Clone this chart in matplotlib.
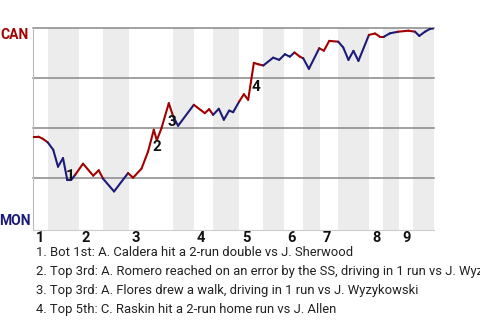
import matplotlib.pyplot as plt

# win probability for CAN (%), sampled along the game
x = [0, 5.2, 9.7, 14.7, 20.2, 25, 30, 34.2, 38.4, 42.2, 50, 60.2, 65.7, 70, 81, 95,
     100, 108.4, 115, 120.7, 123.7, 128.4, 135.7, 140.2, 145, 160.7, 171.7, 176, 180,
     185.7, 190.7, 196, 200, 206, 210.7, 215, 220.7, 225, 230.2, 240, 246, 251.7,
     256.7, 261.2, 266.7, 270, 275.7, 286, 290.7, 296, 305, 310, 315.2, 320.2, 325.2,
     335.7, 341.7, 346.7, 350.7, 356.7, 365, 375, 381.7, 386, 391.7, 396.7, 400.7]
wp = [45.8, 45.8, 44.7, 42.9, 39.2, 30.7, 35, 24.2, 24.2, 26.7, 32.2, 26.2, 28.9, 24.7,
      18.3, 27.5, 25.2, 29.7, 38.3, 49.2, 43.9, 50, 62.5, 55.7, 51.2, 61.7, 57.5, 59.5,
      56.7, 59.7, 54.2, 58.8, 58, 63.3, 67, 64.2, 82.7, 82, 81.4, 85.3, 84.2, 87, 85.8,
      87.9, 85.8, 85, 79.7, 90, 88.8, 93.7, 93.3, 90.4, 84.2, 88.7, 83.7, 96.7, 97.4,
      95.8, 95.8, 97.5, 98.3, 98.8, 98.3, 96.2, 98.3, 99.7, 100]
# which team each segment belongs to (R = CAN, B = MON)
seg_team = "RRRBBBBBBRRRRBBRRRRRRRRBBRRRBBBBBRRRRRBBBBBRRBBRRRBBBBBRRRBBRRBBBB"

half_innings = [0, 14.7, 45.7, 69.7, 95.7, 139.7, 160.7, 179.7, 205.7, 229.7, 250.7,
                269.7, 286.7, 304.7, 335.7, 349.7, 365.7, 379.7, 400.7]
innings = ["1", "2", "3", "4", "5", "6", "7", "8", "9"]

event_ids = ["1", "2", "3", "4"]
event_x = [37.2, 123.7, 138.7, 223.2]
event_wp = [26.2, 40.4, 53.2, 70.4]
event_text = [
    "1. Bot 1st: A. Caldera hit a 2-run double vs J. Sherwood",
    "2. Top 3rd: A. Romero reached on an error by the SS, driving in 1 run vs J. Wyzykowski",
    "3. Top 3rd: A. Flores drew a walk, driving in 1 run vs J. Wyzykowski",
    "4. Top 5th: C. Raskin hit a 2-run home run vs J. Allen",
]

RED = "#a30000"
BLUE = "#1c1c78"
plt.rcParams['font.family'] = ['Roboto', 'DejaVu Sans']

fig = plt.figure(figsize=(4.8, 3.2), dpi=100)
ax = fig.add_axes([33 / 480, 0.28125, 401 / 480, 0.6303])
ax.set_xlim(0, half_innings[-1])
ax.set_ylim(-1, 100)

# shade bottom halves
for i in range(1, len(half_innings) - 1, 2):
    ax.axvspan(half_innings[i], half_innings[i + 1], color="#ececec", lw=0, zorder=0)

for y in [25, 50, 75, 100]:
    ax.axhline(y, color="#888888", lw=1.1, zorder=1, clip_on=False)

for i, t in enumerate(seg_team):
    ax.plot(x[i:i + 2], wp[i:i + 2], color=RED if t == "R" else BLUE, lw=1.5,
            solid_capstyle="round", zorder=3)

for eid, ex, ey in zip(event_ids, event_x, event_wp):
    ax.text(ex, ey, eid, fontsize=11, fontweight="bold", ha="center", va="center",
            color="#111111", zorder=4)

for spine in ["top", "right"]:
    ax.spines[spine].set_visible(False)
ax.spines["left"].set_color("#bbbbbb")
ax.spines["bottom"].set_color("#cccccc")
ax.set_xticks([])
ax.set_yticks([])

# inning labels at start of each top half
for inn, pos in zip(innings, half_innings[0::2]):
    ax.text(pos + 3.2, -5, inn, fontsize=10.5, fontweight="bold", ha="left",
            va="center", color="#111111")

fig.text(29 / 480, 1 - 35 / 320, "CAN", fontsize=10, fontweight="bold", color=RED,
         ha="right", va="center")
fig.text(31 / 480, 1 - 221 / 320, "MON", fontsize=10, fontweight="bold", color=BLUE,
         ha="right", va="center")

for k, txt in enumerate(event_text):
    fig.text(36 / 480, 1 - (253 + 18.7 * k) / 320, txt, fontsize=9.4, color="#222222",
             ha="left", va="center")

fig.savefig("out.png", dpi=100)
